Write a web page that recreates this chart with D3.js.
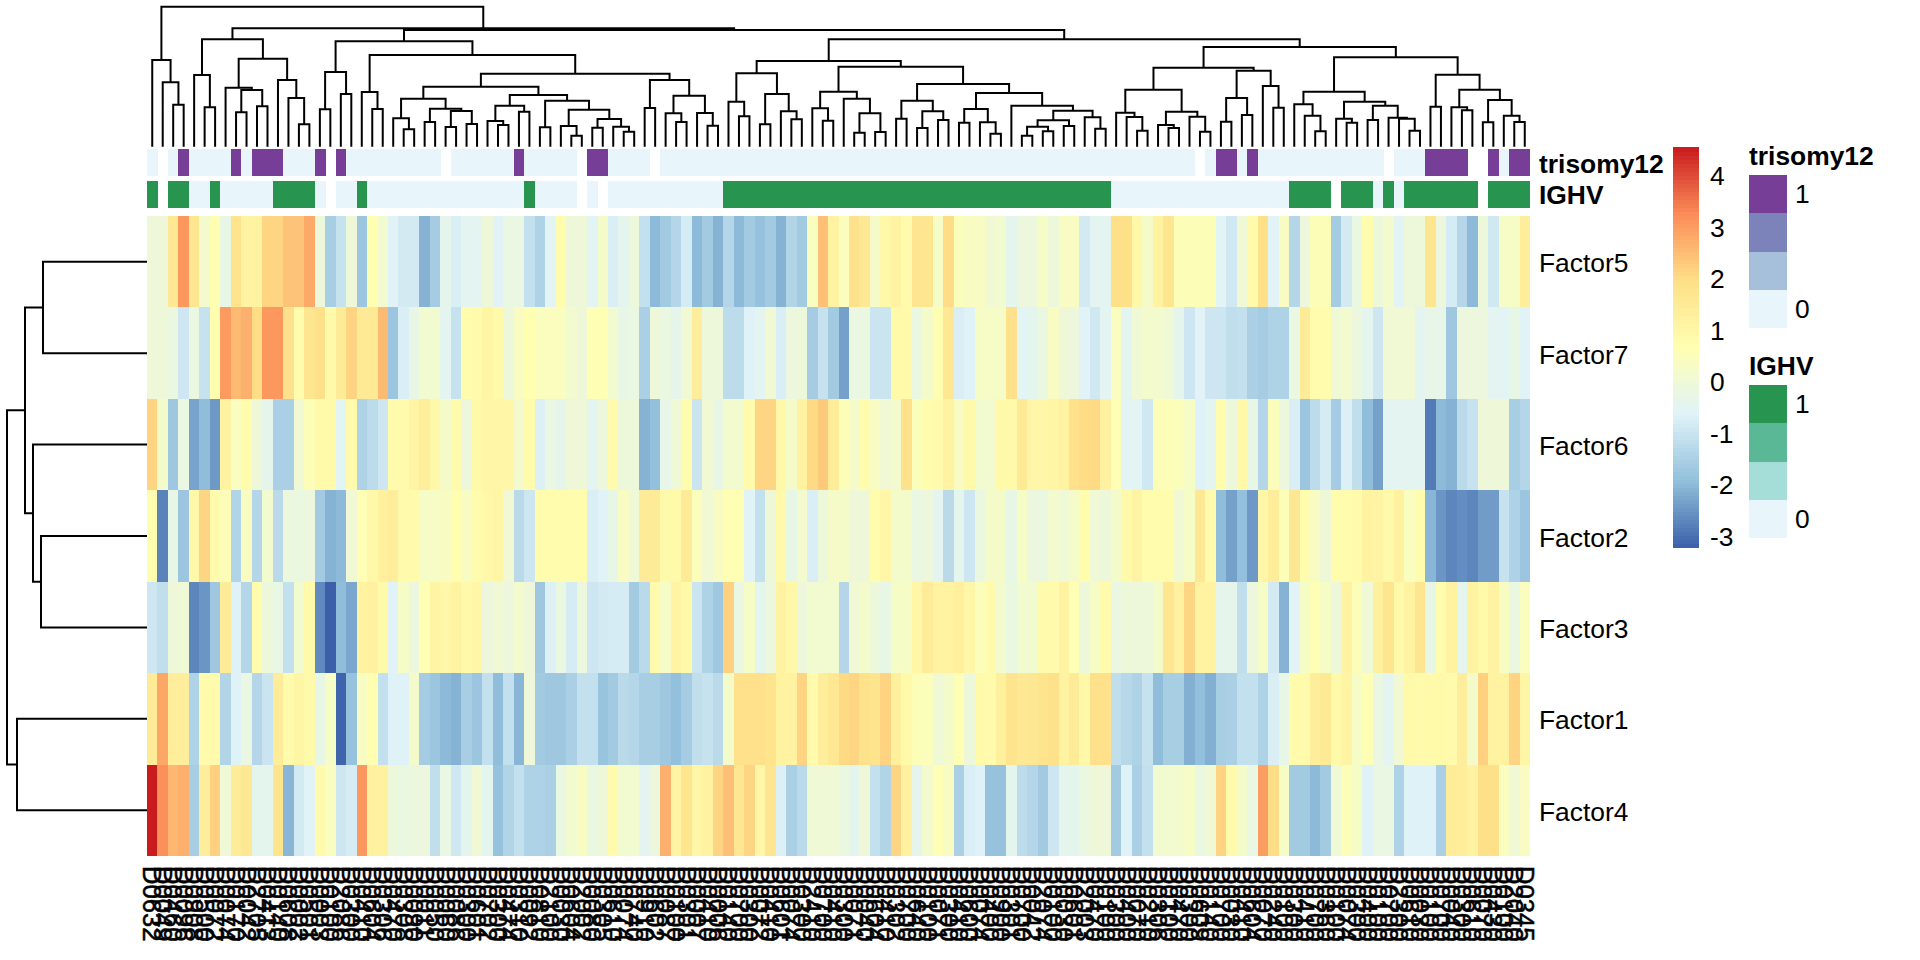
<!DOCTYPE html>
<html><head><meta charset="utf-8">
<script src="https://cdn.jsdelivr.net/npm/d3@7"></script>
<style>html,body{margin:0;padding:0;background:#fff}svg{display:block}text{font-family:"Liberation Sans",Arial,sans-serif;font-size:26.4px;fill:#000}</style>
</head><body><svg id="c" width="1920" height="960"></svg>
<script>
const n = null;
const factors = ["Factor5","Factor7","Factor6","Factor2","Factor3","Factor1","Factor4"];
const sampleIds = [
"D0632","D0049","D0460","D0096","D0908","D0500","D0072","D0074","D0170","D0042",
"D2705","D0413","D0140","D0608","D0002","D0501","D0003","D0100","D2086","D0300",
"D0410","D0604","D0306","D0470","D0308","D0090","D0011","D0050","D0060","D0086",
"D0300","D0601","D0702","D0300","D0474","D0310","D0092","D0810","D2100","D0030",
"D0604","D2002","D0080","D0305","D0610","D0074","D0740","D0910","D0602","D0087",
"D0100","D0301","D0007","D0410","D0006","D0140","D0700","D0300","D0072","D0410",
"D0601","D0074","D0300","D2410","D0700","D0410","D0300","D0071","D0040","D0604",
"D0410","D0302","D0700","D0640","D0100","D0071","D0300","D0410","D0600","D0074",
"D0400","D0900","D0301","D0700","D0042","D2074","D0100","D0030","D0601","D2003",
"D0470","D0100","D0300","D0400","D0070","D0210","D0306","D0100","D0470","D0300",
"D0609","D0140","D0700","D0030","D0410","D0604","D0070","D0240","D0100","D0300",
"D0410","D0700","D0360","D0100","D0074","D0300","D0400","D0100","D0700","D2300",
"D0610","D0030","D0100","D0700","D0040","D0300","D0610","D0070","D0430","D0100",
"D2040","D0345"];
const trisomy12 = [
0,n,0,1,0,0,0,0,1,0, 1,1,1,0,0,0,1,n,1,0, 0,0,0,0,0,0,0,0,n,0, 0,0,0,0,0,1,0,0,0,0,
0,n,1,1,0,0,0,0,n,0, 0,0,0,0,0,0,0,0,0,0, 0,0,0,0,0,0,0,0,0,0, 0,0,0,0,0,0,0,0,0,0,
0,0,0,0,0,0,0,0,0,0, 0,0,0,0,0,0,0,0,0,0, n,0,1,1,0,1,0,0,0,0, 0,0,0,0,0,0,0,0,n,0,
0,0,1,1,1,1,n,n,1,0,1,1];
const ighv = [
1,n,1,1,0,0,1,0,0,0, 0,0,1,1,1,1,0,n,0,0, 1,0,0,0,0,0,0,0,0,0, 0,0,0,0,0,0,1,0,0,0,
0,n,0,n,0,0,0,0,0,0, 0,0,0,0,0,1,1,1,1,1, 1,1,1,1,1,1,1,1,1,1, 1,1,1,1,1,1,1,1,1,1,
1,1,1,1,1,1,1,1,1,1, 1,1,0,0,0,0,0,0,0,0, 0,0,0,0,0,0,0,0,0,1, 1,1,1,n,1,1,1,0,1,0,
1,1,1,1,1,1,1,n,1,1,1,1];
const factor5 = [
-.05,-.05,1.6,3.1,1.7,.15,.7,-.3,1.8,1.2, 1.2,2.1,2.1,2.4,2.4,2.8,-.1,-1.55,-1.05,-.05,
-1.75,.7,.1,-.6,-.85,-.85,-2.1,-1.6,-.4,-.75, -.5,-.5,-.05,-.6,-.25,-.25,-1.1,-1.45,-.55,.8,
-.05,-.05,-.55,.25,-.75,-.45,-.1,-1.1,-2,-1.65, -1.35,-.8,-2,-1.65,-2.1,-1.35,-2,-1.65,-1.85,-1.65,
-2.1,-1.4,-1.65,.4,2.45,1.2,.45,
1.9,1.6,.25,.95,1.2,.85,1.75,1.75,.3,2,.5,.35,.35,.05,.1,-.45,-.15,-.15,.3,-.1,.35,.35,-.85,-.5,-.5,
1.95,1.95,.95,.25,1.2,1.75,.55,.55,.55,.55,-.55,-.9,0,.85,1.95,-.6,.35,-1.35,-.15,.55,.55,-1.6,-.85,-.2,.8,
-.1,.15,-.55,-.1,-.1,1.75,-.15,-.8,-1.35,-2,-.1,-.9,.3,.3,1.4];
const factor7 = [
-.05,-.05,-.2,-.95,-.2,-1.05,.75,3.05,2.55,2.7, 2,3.1,3.1,1.9,.8,1.75,1.95,.9,1.5,2.15,
1.55,1.55,2.55,-1.75,-.75,-.3,.1,.1,-.5,-1.05, .8,.85,1.05,.9,-.1,.35,.7,.45,.45,.4,
.1,-.05,.6,.6,.1,-.3,-.25,-1.5,-.05,-.2, -.4,.05,1.35,-.1,-.1,-1.2,-1.2,-.65,-.5,.05,
-.75,-.15,-.1,-1.6,-1.05,-1.65,-2.35,
-.25,-.2,-1,-1,.9,.9,-.2,.2,.75,1.6, -.75,-.65,.3,.3,.3,1.9,-.55,-.45,-.2,.35,
-.05,-.15,-.6,-.9,-.5,.4,-.5,0,.15,.15, 0,-.45,-.95,-.6,-.95,-.95,-1.15,-1.1,-1.5,-1.6,
-1.45,-1.45,-.2,1.5,.8,.8,0,.15,-.15,-.45, -.95,.05,.05,.05,-.5,-.35,-.35,-1.7,-.15,-.15,
-.15,-.5,-.55,-.3,-.6];
const factor6 = [
2.15,.2,-1.7,-.2,-2.3,-1.95,-2.45,1.2,.4,.8, -.05,-.4,-1.5,-1.5,.05,.55,.9,.9,-.55,.85,
-1.45,-1.2,-.95,.85,.85,1.1,1.35,.95,.25,.85, -.15,.9,1,1,1,.15,.85,-.7,-.25,-.4,
-.05,-.05,-.5,-.15,.85,-.1,-.1,-2.1,-1.9,-.35, 0,.8,-1,.05,-.3,.15,.1,.85,2.1,2.1,
.95,.25,1.2,2.05,2.3,1.45,.55,
.25,.8,.35,.05,.15,1.85,.5,.8,.85,1.2, .35,.9,.1,.1,.9,.9,1.55,1,1,1.05,
1.15,1.9,2,2.05,1.25,.6,-.55,-.55,-.9,.55, .55,.5,.3,-.65,-.5,.8,-.1,.95,-.3,-1.35,
.5,-.15,-.75,-1.75,-1.2,-.8,-1.6,-.7,-1.15,-1.95, -2.35,-.5,-.5,-.5,-.5,-2.85,-2,-2.1,-1.25,-1.05,
-.05,-.05,-.05,-1.55,-1.35];
const factor2 = [
.75,-2.75,-.3,-1.75,.95,2.1,.85,.55,-1.4,.35, -1.35,.1,-1.25,-.15,-.2,-.15,-1.65,-2.1,-2,.05,
.6,.95,1.3,1.35,.85,.85,.3,.3,.35,.75, .35,.8,.95,1.05,.05,-1.25,-.95,.8,.8,.8,
.8,.8,-.75,-.6,-.3,.35,0,1.5,1.5,.9, .9,1.5,.5,.05,.35,.65,.65,-.6,-1.1,-.05,
.9,-.3,.15,-.75,-.1,.25,.25,
-.05,-.05,.8,1,.2,.2,-.25,-.15,-.5,-1.25, -.45,-.95,-.2,.25,.25,-.3,.3,-.15,-.2,.15,
0,.25,.8,0,-.1,.2,.9,1.1,.8,.8, .8,.05,.3,1.6,.85,-1.95,-2.35,-1.9,-2.45,1,
1.35,.55,1.65,.8,.35,-.05,.8,.8,.85,1.15, 1.1,.9,1.25,.4,.8,-2.05,-2.5,-2.7,-2.6,-2.7,
-2.4,-2.4,-1.05,-1.45,-1.75];
const factor3 = [
-.95,-1.15,-.05,0,-2.7,-2.5,-1.7,1.5,-.65,-1.35, .8,-.1,-.3,-1.1,.1,.9,-2.65,-3.2,-1.95,-2.25,
1.15,1.25,.9,-.6,.3,-.15,.65,1.1,.95,1.15, .9,1,-.15,.05,-.15,.15,-.05,-1.7,-.7,-.2,
-.8,-.15,-.95,-.85,-.8,-.8,-1.65,-1.25,.85,.3, 1.1,.9,-1,-1.45,-1.7,2.2,-.25,.3,-.45,-.15,
1.2,.95,-.1,.1,.1,.1,-1.35,
.05,.2,-.1,-.3,.3,.3,1,1.45,1.15,1.2, 1.3,1,.5,.85,.15,-.2,.1,.1,.85,.85,
1.2,.6,-.1,.3,.85,-.25,-.1,-.1,-.1,.2, 1.75,1.25,2.1,1.2,1.2,-.4,-.4,-1.15,-.15,.3,
-.85,-2.1,-.6,.3,.6,.3,-.1,1.2,.55,0, 1.3,1.7,.9,1.15,1.7,-.3,.8,1.15,-.45,1.2,
.9,1.15,.35,-.2,.45];
const factor1 = [
1.5,2.85,1.35,1.35,-1.45,.85,.85,-1.4,-.65,-.25, -1.35,-1,1.45,.85,1.05,.9,-.3,.3,-3.15,-1.85,
.35,.7,-1.1,-.65,-.65,.2,-1.6,-1.75,-2,-2.1, -1.55,-1.75,-1.1,-1.95,-1.1,-2.05,-.05,-1.65,-1.7,-1.7,
-1.5,-1.1,-1.1,-1.8,-1.65,-1.25,-1.35,-1.55,-1.55,-1.7, -1.9,-1.6,-1.15,-1.05,-1.25,.2,1.9,1.9,1.9,1.8,
1.15,1.2,2.15,.85,1.35,1.6,2.05,
2.1,1.85,1.8,2.15,1.3,.9,.55,.5,0,.2, .6,-.1,.9,.85,1.3,1.8,1.6,1.65,1.8,1.85,
1.2,1.5,.95,1.9,1.9,-1.15,-1.3,-1.45,-1.05,-1.95, -1.55,-1.55,-2.15,-1.9,-2.15,-1.55,-1.5,-1.1,-1.1,-1.45,
-.75,-.3,.85,.85,1.4,1.55,.9,1.1,.3,.6, -.25,-.5,.05,.9,.85,.9,.9,.85,1.35,.2,
2.2,1.2,1.15,2.15,1.05];
const factor4 = [
4.55,3.2,2.6,2.7,-1.55,1.4,2.2,0,1.45,1.6, -.45,-.45,1.8,-2.05,-.85,-.6,.85,.4,-.95,-.8,
3.1,1.25,1.25,-.1,-.2,-.15,-.15,-1.15,-.25,-.9, -.45,.05,-.45,-1.85,-1.4,-1.1,-1.45,-1.45,-1.5,-.2,
.1,.35,-.2,-.05,.85,.1,.1,-.5,-.15,2.7, 1.1,1.75,1,1.2,2.15,2.45,1.65,2.1,1,1.75,
-.7,-1.5,-1.25,0,0,0,-.2,
-.45,-.05,-1.1,-1.4,2.1,1.25,-.4,.15,.6,.35, -1.5,-.75,-.65,-1.85,-1.85,-.45,-1.2,-1.35,-1.65,-.95,
-.45,-.45,-.2,-.05,-.05,-1.65,-.65,-1.5,-1.1,.1, .1,.15,.3,-.2,.05,2.15,.85,.2,-.25,3,
2,.3,-1.65,-1.65,-2,-1.65,0,.55,.3,-.65, -.25,-.25,-1.45,-.65,-.65,-.65,-1.5,1.45,1.4,1.2,
1.95,1.95,.45,0,.35];
const legendTicks = [4,3,2,1,0,-1,-2,-3];
const annotationLevels = [1,.667,.333,0];
// dendrogram nodes: [height, left, right]; 0 marks a leaf
const colTree = [420,
 [260,0,[193,0,[126,0,0]]],
 [355,
  [322,[215,0,[118,0,0]],[264,[177,0,[170,[103,0,0],[121,0,0]]],[200,0,[146,0,[67,0,0]]]]],
  [350,
   [316,[224,[112,0,0],[158,0,0]],
    [275,[164,0,[113,0,0]],
     [219,
      [180,
       [144,[85,0,[52,0,0]],[114,[74,0,0],[107,[59,0,0],[68,0,0]]]],
       [155,[123,[77,0,[65,0,0]],[105,0,0]],
        [138,[58,0,0],[111,[62,0,[33,0,0]],[83,[57,0,0],[60,0,[45,0,0]]]]]]],
      [200,[116,0,0],[153,[100,0,[74,0,0]],[101,0,[63,0,0]]]]]]],
   [322,
    [257,
     [220,[135,0,[91,0,0]],[158,[67,0,0],[106,0,[82,0,0]]]],
     [240,
      [165,[115,0,[78,0,0]],[144,0,[100,[42,0,0],[44,0,0]]]],
      [188,
       [138,[84,0,0],[106,[56,0,0],[80,0,0]]],
       [161,[113,[72,0,0],[73,0,[39,0,0]]],
        [123,0,[108,[79,[60,[33,0,0],[46,0,0]],[62,0,0]],[88,0,[54,0,0]]]]]]]],
    [299,
     [237,
      [171,[102,0,[89,0,[48,0,0]]],[105,[65,0,[56,0,0]],[90,0,[45,0,0]]]],
      [228,[146,[75,0,0],[95,0,0]],[182,0,[117,0,0]]]],
     [268,
      [165,[127,0,[93,0,[46,0,0]]],[135,[84,0,[72,0,0]],[123,[80,0,0],[87,0,[84,0,[48,0,0]]]]]],
      [216,[120,0,0],[171,[118,0,[109,0,0]],[140,[73,0,0],[93,0,[74,0,0]]]]]]]]]]];
const rowTree = [140,[122,[104,0,0],[114,0,[106,0,0]]],[130,0,0]];

const matrix = [factor5,factor7,factor6,factor2,factor3,factor1,factor4];
const N = sampleIds.length;
const svg = d3.select("#c");
const x = d3.scaleBand().domain(d3.range(N)).range([147,1530]);
const y = d3.scaleBand().domain(factors).range([216,856]);
const stops = [-3.22,-1.93,-.63,.66,1.95,3.25,4.54];
const stopCols = ["#3a5fa8","#91bfdb","#e0f3f8","#ffffb2","#fee088","#fc8d59","#c91b1e"];
const color = d3.scaleLinear().domain(stops).range(stopCols).interpolate(d3.interpolateRgb).clamp(true);

// heat cells
matrix.forEach((row,r)=>{
  svg.append("g").attr("shape-rendering","crispEdges").selectAll("rect").data(row).join("rect")
    .attr("x",(d,i)=>x(i)).attr("y",y(factors[r])).attr("width",x.bandwidth()+.4).attr("height",y.bandwidth()+.4)
    .attr("fill",d=>color(d));
});
// annotation tracks
const triCol = d3.scaleOrdinal().domain(annotationLevels).range(["#763e97","#7b83ba","#a6c0dc","#e8f5fa"]);
const ighvCol = d3.scaleOrdinal().domain(annotationLevels).range(["#27954f","#5bb897","#a5ddd9","#e8f5fa"]);
const tracks = [{name:"trisomy12",v:trisomy12,c:triCol,y0:149,y1:176,base:172.5},{name:"IGHV",v:ighv,c:ighvCol,y0:181,y1:208,base:204}];
tracks.forEach(t=>{
  svg.append("g").attr("shape-rendering","crispEdges").selectAll("rect").data(t.v).join("rect")
    .attr("x",(d,i)=>x(i)).attr("y",t.y0).attr("width",x.bandwidth()+.4).attr("height",t.y1-t.y0)
    .attr("fill",d=>d===null?"none":t.c(d));
  svg.append("text").attr("x",1539).attr("y",t.base).style("font-weight","bold").text(t.name);
});
// row labels
svg.append("g").selectAll("text").data(factors).join("text")
  .attr("x",1539).attr("y",d=>y(d)+y.bandwidth()/2+1.5).attr("dominant-baseline","central").text(d=>d);
// column labels
svg.append("g").selectAll("text").data(sampleIds).join("text")
  .attr("transform",(d,i)=>`translate(${x(i)+x.bandwidth()/2},866) rotate(90)`)
  .attr("dominant-baseline","central").style("font-size","25.6px").attr("stroke","#000").attr("stroke-width",.5).text(d=>d);
// dendrograms
function layout(t,pos){ let i=0;
  (function walk(nd){ if(nd===0){return {p:pos(i++),h:0};}
    const a=walk(nd[1]), b=walk(nd[2]); nd.a=a; nd.b=b; return nd.r={p:(a.p+b.p)/2,h:nd[0]}; })(t);
  return i; }
const colH = d3.scaleLinear().domain([0,420]).range([146.7,6.7]);
layout(colTree,i=>x(i)+x.bandwidth()/2);
const rowH = d3.scaleLinear().domain([0,140]).range([147,7]);
layout(rowTree,i=>y(factors[i])+y.bandwidth()/2);
const colPaths=[],rowPaths=[];
(function w(nd){ if(nd===0)return; const Y=colH(nd[0]);
  colPaths.push(`M${nd.a.p},${colH(nd.a.h)}V${Y}H${nd.b.p}V${colH(nd.b.h)}`); w(nd[1]); w(nd[2]); })(colTree);
(function w(nd){ if(nd===0)return; const X=rowH(nd[0]);
  rowPaths.push(`M${rowH(nd.a.h)},${nd.a.p}H${X}V${nd.b.p}H${rowH(nd.b.h)}`); w(nd[1]); w(nd[2]); })(rowTree);
svg.append("g").selectAll("path").data(colPaths.concat(rowPaths)).join("path").attr("d",d=>d).attr("fill","none").attr("stroke","#000").attr("stroke-width",2);
// colour bar
const barY = d3.scaleLinear().domain([-3,4]).range([535.7,175]);
const barBins = d3.range(100).map(i=>stops[0]+(stops[6]-stops[0])*i/100);
const binH = (stops[6]-stops[0])/100;
svg.append("g").attr("shape-rendering","crispEdges").selectAll("rect").data(barBins).join("rect")
  .attr("x",1673).attr("width",26).attr("y",d=>barY(d+binH)).attr("height",barY(0)-barY(binH)+.6).attr("fill",d=>color(d+binH/2));
svg.append("g").selectAll("text").data(legendTicks).join("text")
  .attr("x",1710).attr("y",d=>barY(d)+1).attr("dominant-baseline","central").text(d=>d);
// annotation legends
const sq = d3.scaleBand().domain(annotationLevels);
[{name:"trisomy12",c:triCol,top:175,tb:165},{name:"IGHV",c:ighvCol,top:385,tb:375}].forEach(l=>{
  svg.append("text").attr("x",1749).attr("y",l.tb).style("font-weight","bold").text(l.name);
  sq.range([l.top,l.top+153]);
  svg.append("g").attr("shape-rendering","crispEdges").selectAll("rect").data(annotationLevels).join("rect")
    .attr("x",1749).attr("y",d=>sq(d)).attr("width",38).attr("height",sq.bandwidth()).attr("fill",d=>l.c(d));
  svg.append("g").selectAll("text").data([1,0]).join("text").attr("x",1795)
    .attr("y",d=>sq(d)+sq.bandwidth()/2).attr("dominant-baseline","central").text(d=>d);
});
</script></body></html>
